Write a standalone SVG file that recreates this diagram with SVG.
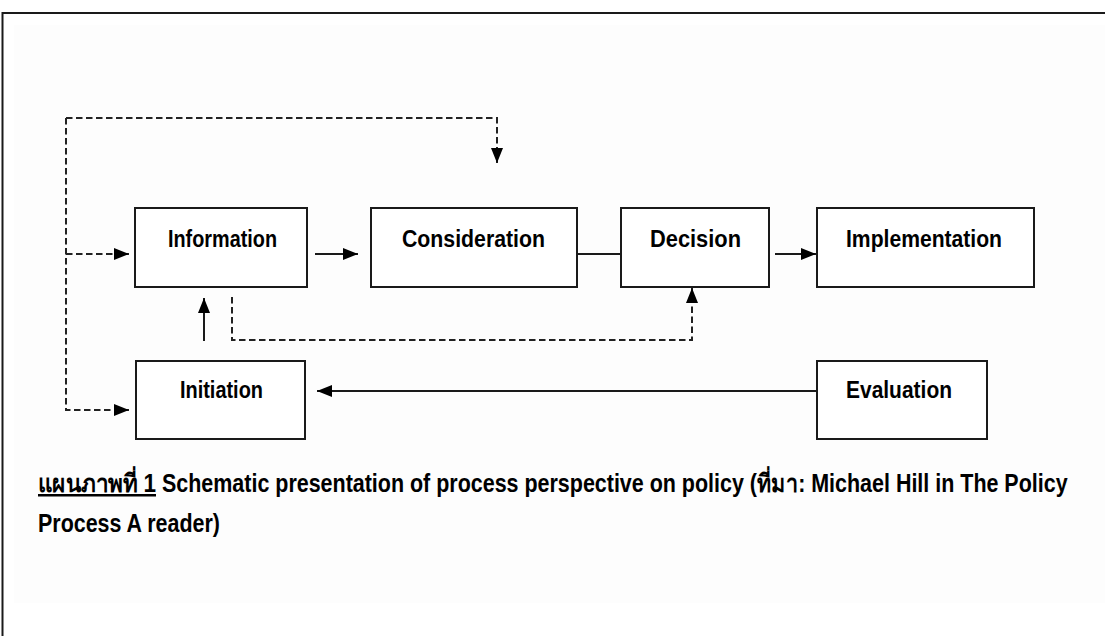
<svg xmlns="http://www.w3.org/2000/svg" width="1105" height="636" viewBox="0 0 1105 636">
<style>
.box{fill:#fff;stroke:#1a1a1a;stroke-width:2}
.lbl{font-family:"Liberation Sans",Arial,sans-serif;font-weight:bold;font-size:23px;fill:#000;text-anchor:start}
.ln{fill:none;stroke:#1a1a1a;stroke-width:2}
.dash{fill:none;stroke:#222;stroke-width:2;stroke-dasharray:6.5 3.5}
.cap{font-family:"Liberation Sans","Noto Sans","DejaVu Sans",sans-serif;font-weight:bold;font-size:25px;fill:#000}
</style>
<defs>
<marker id="ah" markerUnits="userSpaceOnUse" markerWidth="16" markerHeight="14" refX="15" refY="7" orient="auto">
<path d="M0,1 L15,7 L0,13 Z" fill="#000"/>
</marker>
</defs>
<rect x="0" y="0" width="1105" height="636" fill="#fff"/>
<rect x="14" y="25" width="1091" height="578" fill="#fdfdfd"/>
<g id="frame">
<line x1="2" y1="13" x2="1105" y2="13" stroke="#1a1a1a" stroke-width="2"/>
<line x1="2.5" y1="12" x2="2.5" y2="636" stroke="#1a1a1a" stroke-width="2"/>
</g>
<g id="connectors">
<path class="dash" d="M66,254 H129" marker-end="url(#ah)"/>
<path class="dash" d="M66,118 V410 H129" marker-end="url(#ah)"/>
<path class="dash" d="M66,118 H497 V163" marker-end="url(#ah)"/>
<path class="ln" d="M315,254 H358" marker-end="url(#ah)"/>
<path class="ln" d="M577,254 H621"/>
<path class="ln" d="M775,254 H816" marker-end="url(#ah)"/>
<path class="ln" d="M204,341 V298" marker-end="url(#ah)"/>
<path class="dash" d="M232,297 V340 H692 V288" marker-end="url(#ah)"/>
<path class="ln" d="M817,391 H317" marker-end="url(#ah)"/>
</g>
<g id="information">
<rect class="box" x="135" y="208" width="172" height="79"/>
<text class="lbl" x="168" y="247" textLength="109" lengthAdjust="spacingAndGlyphs">Information</text>
</g>
<g id="consideration">
<rect class="box" x="371" y="208" width="206" height="79"/>
<text class="lbl" x="402" y="247" textLength="143" lengthAdjust="spacingAndGlyphs">Consideration</text>
</g>
<g id="decision">
<rect class="box" x="621" y="208" width="148" height="79"/>
<text class="lbl" x="650" y="247" textLength="91" lengthAdjust="spacingAndGlyphs">Decision</text>
</g>
<g id="implementation">
<rect class="box" x="817" y="208" width="217" height="79"/>
<text class="lbl" x="846" y="247" textLength="156" lengthAdjust="spacingAndGlyphs">Implementation</text>
</g>
<g id="initiation">
<rect class="box" x="136" y="361" width="169" height="78"/>
<text class="lbl" x="180" y="398" textLength="83" lengthAdjust="spacingAndGlyphs">Initiation</text>
</g>
<g id="evaluation">
<rect class="box" x="817" y="361" width="170" height="78"/>
<text class="lbl" x="846" y="398" textLength="106" lengthAdjust="spacingAndGlyphs">Evaluation</text>
</g>
<g id="caption">
<text class="cap" x="38" y="492" text-decoration="underline" textLength="118" lengthAdjust="spacingAndGlyphs">แผนภาพที่ 1</text>
<text class="cap" transform="translate(162,492) scale(0.78,1)" x="0" y="0" textLength="1161" lengthAdjust="spacingAndGlyphs">Schematic presentation of process perspective on policy (ที่มา: Michael Hill in The Policy</text>
<text class="cap" x="38" y="532" textLength="182" lengthAdjust="spacingAndGlyphs">Process A reader)</text>
</g>
</svg>
